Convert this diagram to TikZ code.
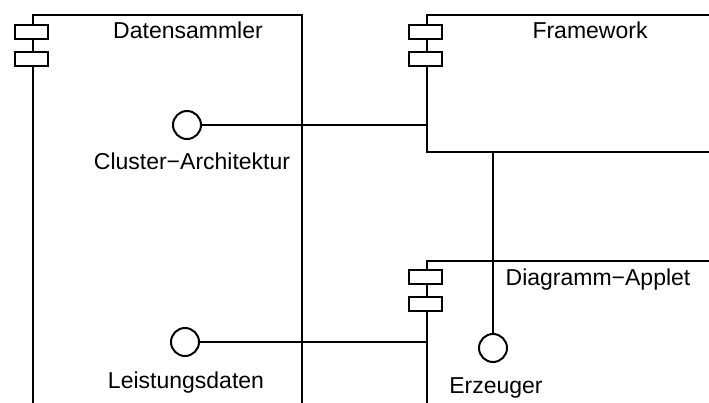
\documentclass[tikz,border=0pt]{standalone}
\usepackage{fontspec}
\setmainfont{Liberation Sans}
\begin{document}
\begin{tikzpicture}[x=1pt,y=-1pt,line width=2pt,
  port/.style={circle,draw,fill=white,minimum size=28pt,inner sep=0pt},
  tab/.style={draw,fill=white,minimum width=33pt,minimum height=14pt,inner sep=0pt},
  lbl/.style={anchor=base,inner sep=0pt,font=\fontsize{23}{27}\selectfont}]
\useasboundingbox (0,0) rectangle (709,403);
% Datensammler component
\draw (33,403) -- (33,15) -- (302,15) -- (302,403);
\node[tab] (d1) at (31,32) {};
\node[tab] (d2) at (31,59) {};
\node[lbl] (dname) at (188,39) {Datensammler};
% Framework component
\draw (709,15) -- (427,15) -- (427,152) -- (709,152);
\node[tab] (f1) at (425,32) {};
\node[tab] (f2) at (425,59) {};
\node[lbl] (fname) at (590,39) {Framework};
% Diagramm-Applet component
\draw (709,261) -- (427,261) -- (427,403);
\node[tab] (a1) at (425,277) {};
\node[tab] (a2) at (425,304) {};
\node[lbl] (aname) at (598,285) {Diagramm−Applet};
% interfaces
\node[port] (cl) at (187,125) {};
\node[lbl] (cllbl) at (192,170) {Cluster−Architektur};
\coordinate (clend) at (427,125);
\draw (cl.east) -- (clend);
\node[port] (ld) at (185,342) {};
\node[lbl] (ldlbl) at (186,388.5) {Leistungsdaten};
\coordinate (ldend) at (427,342);
\draw (ld.east) -- (ldend);
\node[port] (er) at (493,348) {};
\node[lbl] (erlbl) at (496,393.5) {Erzeuger};
\coordinate (erstart) at (493,152);
\draw (erstart) -- (er.north);
\end{tikzpicture}
\end{document}
